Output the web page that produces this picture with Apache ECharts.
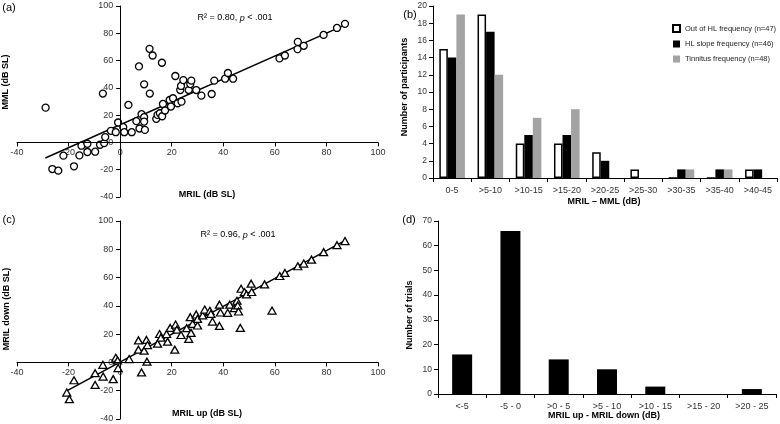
<!DOCTYPE html>
<html>
<head>
<meta charset="utf-8">
<script src="https://cdn.jsdelivr.net/npm/echarts@6/dist/echarts.min.js"></script>
<style>
  html, body { margin: 0; padding: 0; background: #fff; }
  #chart { width: 780px; height: 424px; }
</style>
</head>
<body>
<div id="chart"></div>
<script>
// (a) MRIL vs MML
const mmlPoints = [
  [-28.9, 25.5], [-26.3, -19.5], [-24, -20.7], [-22, -9.7], [-17.9, -17.5], [-15.8, -9.5],
  [-15, -2.4], [-12.7, -1], [-12.7, -7], [-9.7, -6.8], [-7.8, -1.7], [-6.7, 35.8],
  [-6.2, -0.5], [-5.8, 3.9], [-3.6, 8.5], [-1.7, 7.5], [-0.8, 14.6], [1.2, 11.2],
  [1.6, 7.5], [3.2, 27.5], [4.5, 7.5], [6.3, 15.6], [7.3, 55.7], [7.5, 10.2],
  [8.3, 20.7], [9.3, 42.6], [9.3, 18.5], [9.3, 15.3], [9.6, 9.2], [11.4, 68.6],
  [11.5, 35.8], [12.6, 63.7], [14, 17.3], [14.5, 20.2], [15.4, 21.4], [16.2, 58.4],
  [16.6, 28.2], [16.3, 19.2], [17.4, 23.4], [19.2, 31.1], [19.7, 26.3], [20.5, 32.4],
  [21.4, 48.7], [22.3, 28.7], [23.3, 38.4], [23.6, 41.4], [23.8, 29.9], [24.5, 45.7],
  [26.6, 38.4], [27.2, 42.8], [27.6, 45.3], [29.5, 38.4], [31.5, 34.3], [35.5, 35.5],
  [36.5, 45.3], [40.7, 46.7], [41.8, 50.9], [43.8, 46.7], [61.8, 61.6], [63.9, 63.7],
  [68.9, 73.7], [68.8, 68.4], [71.2, 70.8], [78.9, 78.8], [84.1, 83.9], [87.2, 86.9]
];
const mmlFit = [[-29, -11.4], [87, 86]];

// (c) MRIL up vs MRIL down
const downPoints = [
  [-20.7, -21.3], [-19.7, -26], [-17.9, -12.6], [-9.7, -7.6], [-9.7, -15.9], [-6.7, -1.7],
  [-6.6, -10], [-2.7, -11.8], [-1.7, 3.3], [-1, 1.4], [-0.8, -4], [3.5, 2.4],
  [7.1, 15.6], [7.1, 9], [8.3, -7.1], [9.3, 8.3], [10.2, 15.9], [10.4, 0.5],
  [10.6, 12.3], [14.5, 13.3], [15.3, 20.1], [15.8, 17.5], [18, 20.1], [18.4, 14.7],
  [19.4, 24.4], [21.2, 9], [21.5, 26.8], [22, 23.2], [23.6, 19.4], [25.8, 24.2],
  [26.6, 16.6], [27.2, 32], [27.5, 20.9], [28.1, 27.3], [29.5, 33.9], [30, 26.1],
  [30, 30.8], [32, 33.2], [32.8, 37.4], [34.8, 36.5], [35.2, 34.4], [35.8, 28.9],
  [38.5, 40.8], [38.5, 25.8], [38.9, 35.3], [41.7, 35.1], [42.5, 40.8], [44.3, 38.4],
  [45.3, 43.6], [45.6, 40.3], [45.9, 36], [46.6, 24.4], [46.9, 52.1], [48.2, 49.8],
  [49, 48.1], [50.8, 55.7], [51, 49.8], [56, 55.2], [58.9, 36.7], [61.9, 61.1],
  [63.9, 63.3], [68.9, 68], [71.2, 69.9], [74.2, 72.7], [78.9, 78], [84.1, 82.9],
  [87.2, 85.8]
];
const downFit = [[-20.7, -20.1], [87, 86]];

// (b) MRIL - MML histogram
const diffBins = ['0-5', '>5-10', '>10-15', '>15-20', '>20-25', '>25-30', '>30-35', '>35-40', '>40-45'];
const outOfHL = [15, 19, 4, 4, 3, 1, 0, 0, 1];
const hlSlope = [14, 17, 5, 5, 2, 0, 1, 1, 1];
const tinnitus = [19, 12, 7, 8, 0, 0, 1, 1, 0];

// (d) MRIL up - MRIL down histogram
const upDownBins = ['<-5', '-5 - 0', '>0 - 5', '>5 - 10', '>10 - 15', '>15 - 20', '>20 - 25'];
const trials = [16, 66, 14, 10, 3, 0, 2];

const FONT = 'Liberation Sans, Arial, sans-serif';
const lineBlack = { lineStyle: { color: '#000', width: 1 } };

// scatter grids: range -40..100 on both axes, axes cross at 0
const AX_MIN = -40, AX_MAX = 100;
const gridA = { left: 17, top: 6, width: 361, height: 191 };
const gridC = { left: 17, top: 221, width: 361, height: 198 };

// shift so the axis sits on the zero line of the other axis
function zeroShift(size) {
  return -size * (0 - AX_MIN) / (AX_MAX - AX_MIN);
}

function scatterAxis(gridIndex, offset, margin) {
  return {
    type: 'value', gridIndex: gridIndex, min: AX_MIN, max: AX_MAX, interval: 20,
    offset: offset,
    axisLine: { show: true, onZero: false, lineStyle: { color: '#000', width: 1 } },
    axisTick: { show: true, length: 4, lineStyle: { color: '#000' } },
    axisLabel: { fontSize: 9, color: '#333', fontFamily: FONT, margin: margin },
    splitLine: { show: false }
  };
}

function catAxis(gridIndex, data) {
  return {
    type: 'category', gridIndex: gridIndex, data: data,
    axisLine: lineBlack,
    axisTick: { show: true, length: 4, lineStyle: { color: '#000' } },
    axisLabel: { interval: 0, fontSize: 9, color: '#333', fontFamily: FONT, margin: 8 }
  };
}

function countAxis(gridIndex, max, interval) {
  return {
    type: 'value', gridIndex: gridIndex, min: 0, max: max, interval: interval,
    axisLine: { show: true, lineStyle: { color: '#000', width: 1 } },
    axisTick: { show: true, length: 4, lineStyle: { color: '#000' } },
    axisLabel: { fontSize: 8.5, color: '#333', fontFamily: FONT, margin: 6 },
    splitLine: { show: false }
  };
}

// zero lines drawn under the markers, in case the axis line is hidden
const zeroLines = {
  silent: true, symbol: 'none', label: { show: false },
  lineStyle: { color: '#000', width: 1, type: 'solid' },
  data: [{ yAxis: 0 }, { xAxis: 0 }]
};

function txt(x, y, text, opts) {
  return {
    type: 'text', x: x, y: y, rotation: (opts && opts.rotation) || 0,
    style: Object.assign({
      text: text, fill: '#000', align: 'center', verticalAlign: 'middle',
      font: 'bold 9px ' + FONT
    }, (opts && opts.style) || {})
  };
}

function r2(x, y, value) {
  return {
    type: 'text', x: x, y: y,
    style: {
      text: '{a|R² = ' + value + ', }{i|p}{a| < .001}',
      align: 'center', verticalAlign: 'middle',
      rich: {
        a: { fontSize: 9, fontFamily: FONT, fill: '#000' },
        i: { fontSize: 9, fontFamily: FONT, fontStyle: 'italic', fill: '#000' }
      }
    }
  };
}

const chart = echarts.init(document.getElementById('chart'), null, { renderer: 'canvas' });

const option = {
  backgroundColor: '#fff',
  animation: false,
  grid: [
    gridA,
    { left: 433, top: 6, width: 344, height: 172 },
    gridC,
    { left: 438, top: 221, width: 338, height: 173 }
  ],
  xAxis: [
    scatterAxis(0, zeroShift(gridA.height), 6),
    catAxis(1, diffBins),
    scatterAxis(2, zeroShift(gridC.height), 6),
    catAxis(3, upDownBins)
  ],
  yAxis: [
    scatterAxis(0, zeroShift(gridA.width), 7),
    countAxis(1, 20, 2),
    scatterAxis(2, zeroShift(gridC.width), 7),
    countAxis(3, 70, 10)
  ],
  legend: {
    orient: 'vertical', left: 667, top: 19, itemGap: 7,
    itemWidth: 7, itemHeight: 7, icon: 'rect',
    textStyle: { fontSize: 7.5, fontFamily: FONT, color: '#222' },
    data: ['Out of HL frequency (n=47)', 'HL slope frequency (n=46)', 'Tinnitus frequency (n=48)']
  },
  series: [
    {
      type: 'line', xAxisIndex: 0, yAxisIndex: 0, data: mmlFit, symbol: 'none',
      lineStyle: { color: '#000', width: 1.5 }, z: 1, markLine: zeroLines
    },
    {
      type: 'scatter', xAxisIndex: 0, yAxisIndex: 0, data: mmlPoints,
      symbol: 'circle', symbolSize: 7,
      itemStyle: { color: '#fff', borderColor: '#000', borderWidth: 1.3, opacity: 1 }, z: 2
    },
    {
      type: 'line', xAxisIndex: 2, yAxisIndex: 2, data: downFit, symbol: 'none',
      lineStyle: { color: '#000', width: 1.5 }, z: 1, markLine: zeroLines
    },
    {
      type: 'scatter', xAxisIndex: 2, yAxisIndex: 2, data: downPoints,
      symbol: 'triangle', symbolSize: [8, 7],
      itemStyle: { color: '#fff', borderColor: '#000', borderWidth: 1.3, opacity: 1 }, z: 2
    },
    {
      name: 'Out of HL frequency (n=47)', type: 'bar', xAxisIndex: 1, yAxisIndex: 1,
      data: outOfHL, barGap: '0%', barCategoryGap: '33%',
      itemStyle: { color: '#fff', borderColor: '#000', borderWidth: 1.5 }
    },
    {
      name: 'HL slope frequency (n=46)', type: 'bar', xAxisIndex: 1, yAxisIndex: 1,
      data: hlSlope, barGap: '0%', barCategoryGap: '33%',
      itemStyle: { color: '#000' }
    },
    {
      name: 'Tinnitus frequency (n=48)', type: 'bar', xAxisIndex: 1, yAxisIndex: 1,
      data: tinnitus, barGap: '0%', barCategoryGap: '33%',
      itemStyle: { color: '#a3a3a3' }
    },
    {
      type: 'bar', xAxisIndex: 3, yAxisIndex: 3, data: trials, barWidth: 20,
      itemStyle: { color: '#000' }
    }
  ],
  graphic: [
    txt(9, 8, '(a)', { style: { font: '11px ' + FONT } }),
    txt(410, 15, '(b)', { style: { font: '11px ' + FONT } }),
    txt(9, 220, '(c)', { style: { font: '11px ' + FONT } }),
    txt(409, 220, '(d)', { style: { font: '11px ' + FONT } }),
    r2(235, 18, '0.80'),
    r2(238, 235, '0.96'),
    txt(207, 195, 'MRIL (dB SL)'),
    txt(6, 82, 'MML (dB SL)', { rotation: Math.PI / 2 }),
    txt(207, 414, 'MRIL up (dB SL)'),
    txt(7, 309, 'MRIL down (dB SL)', { rotation: Math.PI / 2 }),
    txt(604, 202, 'MRIL \u2013 MML (dB)'),
    txt(405, 87, 'Number of participants', { rotation: Math.PI / 2 }),
    txt(604, 416, 'MRIL up - MRIL down (dB)'),
    txt(410, 315, 'Number of trials', { rotation: Math.PI / 2 })
  ]
};

chart.setOption(option);
</script>
</body>
</html>
